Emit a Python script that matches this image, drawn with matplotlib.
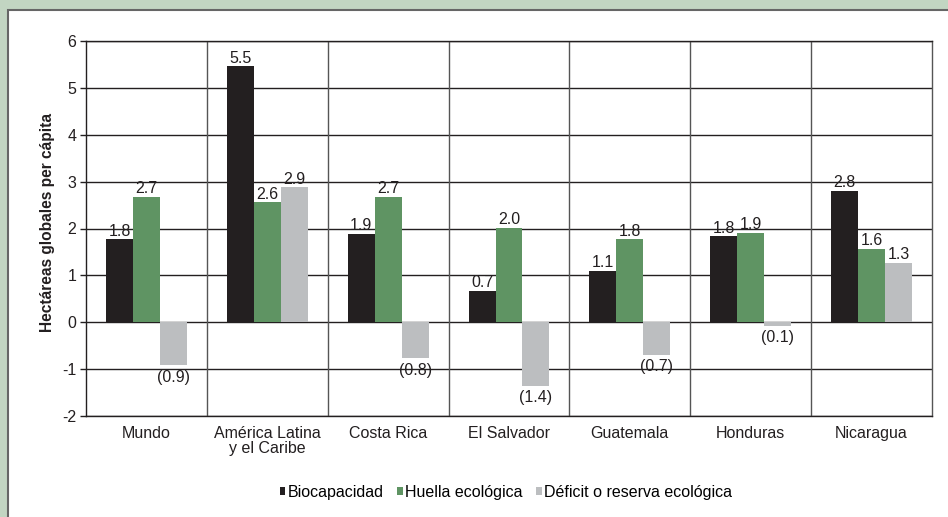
import matplotlib
matplotlib.use("Agg")
import matplotlib.pyplot as plt
from matplotlib.patches import Rectangle
import numpy as np

plt.rcParams['font.family'] = ['Liberation Sans', 'DejaVu Sans']

categories = ["Mundo", "América Latina\ny el Caribe", "Costa Rica", "El Salvador",
              "Guatemala", "Honduras", "Nicaragua"]
biocapacidad = [1.77, 5.46, 1.88, 0.67, 1.09, 1.83, 2.81]
huella = [2.67, 2.56, 2.67, 2.01, 1.77, 1.90, 1.56]
deficit = [-0.92, 2.88, -0.77, -1.36, -0.70, -0.07, 1.26]
series_names = ["Biocapacidad", "Huella ecológica", "Déficit o reserva ecológica"]
colors = ["#231f20", "#5f9463", "#bcbec0"]
yticks = [-2, -1, 0, 1, 2, 3, 4, 5, 6]

fig = plt.figure(figsize=(9.48, 5.17), dpi=100)
fig.patch.set_facecolor("#c2d5c2")
panel = Rectangle((8/948, -0.01), 1.0, 1 - 10/517 + 0.01, transform=fig.transFigure,
                  facecolor="white", edgecolor="#666666", linewidth=1.5, zorder=-5)
fig.patches.append(panel)

ax = fig.add_axes([86/948, 1-416/517, (932-86)/948, (416-41)/517])
ax.set_zorder(1)
ax.set_facecolor("white")

x = np.arange(len(categories))
w = 0.223
series = [biocapacidad, huella, deficit]
for i, (vals, c, name) in enumerate(zip(series, colors, series_names)):
    pos = x + (i - 1) * w
    ax.bar(pos, vals, width=w, color=c, label=name, zorder=3)
    for px, v in zip(pos, vals):
        if v >= 0:
            ax.annotate(f"{v:.1f}", (px, v), xytext=(0, 0.5), textcoords="offset points",
                        ha="center", va="bottom", fontsize=11.5, color="#231f20", zorder=4)
        else:
            ax.annotate(f"({abs(v):.1f})", (px, v), xytext=(0, -3), textcoords="offset points",
                        ha="center", va="top", fontsize=11.5, color="#231f20", zorder=4)

ax.set_xlim(-0.5, len(categories) - 0.5)
ax.set_ylim(-2, 6)
ax.set_yticks(yticks)
ax.set_yticklabels([str(t) for t in yticks], fontsize=11.5, color="#231f20")
for t in yticks:
    ax.axhline(t, color="#231f20", linewidth=1.0, zorder=1)
for b in np.arange(0.5, len(categories) - 0.5, 1):
    ax.axvline(b, color="#555555", linewidth=1.0, zorder=1)

ax.set_xticks(x)
ax.set_xticklabels(categories, fontsize=11.5, color="#231f20", linespacing=1.0)
ax.tick_params(axis="x", length=0, pad=7)
ax.tick_params(axis="y", length=4, width=1, color="#231f20", pad=3)
for s in ax.spines.values():
    s.set_color("#231f20")
    s.set_linewidth(1.0)
ax.spines["right"].set_color("#555555")

ax.set_ylabel("Hectáreas globales per cápita", fontsize=11.2, fontweight="bold",
              color="#231f20")
ax.yaxis.set_label_coords(-0.037, 0.515)

leg = fig.legend(loc="center", bbox_to_anchor=(506/948, 1 - 492/517), ncol=3, frameon=False,
                 fontsize=11.5, handlelength=0.35, handleheight=0.35, handletextpad=0.15,
                 columnspacing=0.85)

fig.savefig("out.png", dpi=100, facecolor=fig.get_facecolor())
